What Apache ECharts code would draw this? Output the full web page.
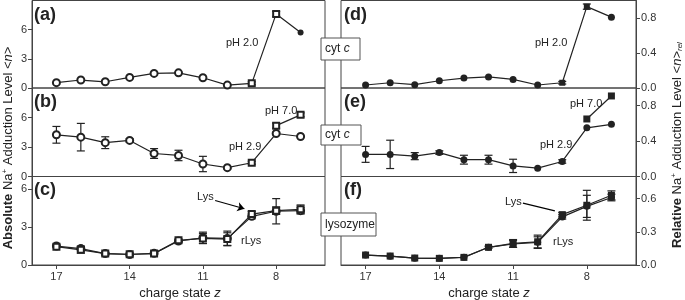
<!DOCTYPE html>
<html>
<head>
<meta charset="utf-8">
<script src="https://cdn.jsdelivr.net/npm/echarts@6/dist/echarts.min.js"></script>
<style>
  body { margin:0; background:#fff; }
  #main { width:685px; height:300px; }
</style>
</head>
<body>
<div id="main"></div>
<script>
  // charge states, high to low
  let charge = [17, 16, 15, 14, 13, 12, 11, 10, 9, 8, 7]
  let chargeTicks = [17, 14, 11, 8]
  let charge70 = [8, 7]

  // (a) absolute <n>, cyt c (pH 2.0 at low z)
  let absA = [0.55, 0.82, 0.64, 1.09, 1.5, 1.56, 1.05, 0.3, 0.48, 7.62, 5.71]
  let absAErr = [0, 0, 0, 0, 0, 0, 0, 0, 0.15, 0.25, 0]
  // (b) absolute <n>, cyt c pH 2.9 / pH 7.0
  let absB = [4.24, 4.0, 3.44, 3.67, 2.34, 2.14, 1.27, 0.9, 1.4, 4.37, 4.07]
  let absBErr = [0.85, 1.4, 0.6, 0.17, 0.5, 0.53, 0.78, 0.1, 0.15, 0.12, 0.05]
  let absB70 = [5.17, 6.27]
  let absB70Err = [0.25, 0.2]
  // (c) absolute <n>, lysozyme
  let absCLys = [1.45, 1.2, 0.9, 0.85, 0.9, 1.95, 2.1, 2.05, 4.03, 4.3, 4.4]
  let absCLysErr = [0, 0.26, 0.1, 0, 0.1, 0.1, 0.4, 0.5, 0.2, 0.3, 0.35]
  let absCrLys = [1.5, 1.3, 0.9, 0.83, 0.92, 1.9, 2.15, 2.1, 3.85, 4.25, 4.3]
  let absCrLysErr = [0, 0.2, 0, 0, 0, 0, 0.45, 0.58, 0.2, 1.0, 0.25]

  // (d) relative <n>rel, cyt c
  let relD = [0.034, 0.06, 0.038, 0.083, 0.113, 0.127, 0.098, 0.034, 0.06, 0.93, 0.81]
  let relDErr = [0, 0, 0, 0, 0, 0, 0, 0, 0.015, 0.03, 0]
  // (e) relative, cyt c pH 2.9 / pH 7.0
  let relE = [0.25, 0.25, 0.23, 0.27, 0.19, 0.19, 0.12, 0.094, 0.17, 0.55, 0.59]
  let relEErr = [0.09, 0.16, 0.04, 0.02, 0.05, 0.05, 0.075, 0, 0.02, 0, 0]
  let relE70 = [0.65, 0.91]
  // (f) relative, lysozyme
  let relFLys = [0.09, 0.081, 0.063, 0.06, 0.069, 0.16, 0.195, 0.21, 0.455, 0.54, 0.63]
  let relFLysErr = [0, 0, 0, 0, 0, 0.01, 0.035, 0.06, 0.02, 0.135, 0.04]
  let relFrLys = [0.09, 0.08, 0.062, 0.06, 0.07, 0.16, 0.19, 0.205, 0.435, 0.53, 0.61]
  let relFrLysErr = [0, 0, 0, 0, 0, 0, 0.03, 0.05, 0.02, 0.1, 0.03]

  let font = 'Liberation Sans, Arial, sans-serif'
  let ink = '#222'
  let axisInk = '#444'

  let leftX = 32, leftW = 293
  let rightX = 341, rightW = 295
  let rows = [[0.5, 87.5], [88, 88.5], [176.5, 88.5]]
  let yRanges = [[0, 9, [0, 3, 6]], [0, 9, [0, 3, 6]], [0, 7, [0, 3, 6]],
                 [0, 1, [0, 0.4, 0.8]], [0, 1, [0, 0.4, 0.8]], [0, 0.8, [0, 0.3, 0.6]]]

  let grids = [], xAxes = [], yAxes = []
  for (let i = 0; i < 6; i++) {
    let col = i < 3 ? 0 : 1
    let row = i % 3
    grids.push({
      left: col === 0 ? leftX : rightX,
      width: col === 0 ? leftW : rightW,
      top: rows[row][0],
      height: rows[row][1],
      show: true,
      borderColor: axisInk,
      borderWidth: 1,
    })
    let bottom = row === 2
    xAxes.push({
      gridIndex: i, type: 'value', min: 6, max: 18, inverse: true,
      splitLine: { show: false },
      axisLine: { show: bottom, lineStyle: { color: axisInk } },
      axisTick: { show: bottom, customValues: chargeTicks, length: 4, lineStyle: { color: axisInk } },
      axisLabel: { show: bottom, customValues: chargeTicks, fontFamily: font, fontSize: 11, color: '#333', margin: 6 },
    })
    let yr = yRanges[i]
    yAxes.push({
      gridIndex: i, type: 'value', min: yr[0], max: yr[1],
      position: col === 0 ? 'left' : 'right',
      splitLine: { show: false },
      axisLine: { show: true, lineStyle: { color: axisInk } },
      axisTick: { show: true, customValues: yr[2], length: 4, lineStyle: { color: axisInk } },
      axisLabel: {
        customValues: yr[2], fontFamily: font, fontSize: 11, color: '#333', margin: 5,
        formatter: col === 0 ? (v) => String(v) : (v) => v.toFixed(1),
      },
    })
  }

  function item(x, y, sym, size) {
    return sym ? { value: [x, y], symbol: sym, symbolSize: size || 6 } : [x, y]
  }

  function lineSeries(g, xs, ys, sym, overrides, extra) {
    return Object.assign({
      type: 'line', xAxisIndex: g, yAxisIndex: g,
      data: ys.map((v, i) => item(xs[i], v, overrides && overrides[i])),
      symbol: sym, symbolSize: 7, z: 3, animation: false,
      lineStyle: { color: ink, width: 1.2 },
      itemStyle: { color: ink, borderWidth: 1.2 },
    }, extra || {})
  }

  function errSeries(g, xs, ys, es) {
    return {
      type: 'custom', xAxisIndex: g, yAxisIndex: g, z: 2, silent: true, animation: false,
      encode: { x: 0, y: 1 },
      data: ys.map((v, i) => [xs[i], v, es[i]]),
      renderItem: function (params, api) {
        let x = api.value(0), y = api.value(1), e = api.value(2)
        if (!e) return null
        let hi = api.coord([x, y + e]), lo = api.coord([x, y - e])
        let w = 4
        let st = { stroke: ink, lineWidth: 1.2 }
        return { type: 'group', children: [
          { type: 'line', shape: { x1: hi[0], y1: hi[1], x2: lo[0], y2: lo[1] }, style: st },
          { type: 'line', shape: { x1: hi[0] - w, y1: hi[1], x2: hi[0] + w, y2: hi[1] }, style: st },
          { type: 'line', shape: { x1: lo[0] - w, y1: lo[1], x2: lo[0] + w, y2: lo[1] }, style: st },
        ] }
      },
    }
  }

  let openA = { 8: 'emptyRect', 9: 'emptyRect', 10: 'circle' }
  let openB = { 8: 'emptyRect' }
  let fillD = { 8: 'rect', 9: 'rect' }

  let series = [
    errSeries(0, charge, absA, absAErr),
    lineSeries(0, charge, absA, 'emptyCircle', openA),
    errSeries(1, charge, absB, absBErr),
    lineSeries(1, charge, absB, 'emptyCircle', openB),
    errSeries(1, charge70, absB70, absB70Err),
    lineSeries(1, charge70, absB70, 'emptyRect', null, { symbolSize: 6 }),
    errSeries(2, charge, absCLys, absCLysErr),
    errSeries(2, charge, absCrLys, absCrLysErr),
    lineSeries(2, charge, absCrLys, 'emptyCircle'),
    lineSeries(2, charge, absCLys, 'emptyRect', null, {
      symbolSize: 6,
      markLine: {
        silent: true, symbol: ['none', 'arrow'], symbolSize: 7,
        label: { show: false },
        lineStyle: { color: '#000', width: 1.2, type: 'solid' },
        data: [[{ coord: [10.5, 5.1] }, { coord: [9.3, 4.45] }]],
      },
    }),

    errSeries(3, charge, relD, relDErr),
    lineSeries(3, charge, relD, 'circle', fillD),
    errSeries(4, charge, relE, relEErr),
    lineSeries(4, charge, relE, 'circle'),
    lineSeries(4, charge70, relE70, 'rect', null, { symbolSize: 7 }),
    errSeries(5, charge, relFLys, relFLysErr),
    errSeries(5, charge, relFrLys, relFrLysErr),
    lineSeries(5, charge, relFrLys, 'circle'),
    lineSeries(5, charge, relFLys, 'rect', null, {
      symbolSize: 7,
      markLine: {
        silent: true, symbol: ['none', 'none'],
        label: { show: false },
        lineStyle: { color: '#000', width: 1.2, type: 'solid' },
        data: [[{ coord: [10.6, 0.56] }, { coord: [9.3, 0.49] }]],
      },
    }),
  ]

  function label(text, x, y, size, weight) {
    return { type: 'text', x: x, y: y, z: 10,
      style: { text: text, font: (weight || 'normal') + ' ' + (size || 11) + 'px ' + font, fill: '#222', verticalAlign: 'middle' } }
  }

  function box(x, y, w, h, text) {
    return { type: 'group', x: x, y: y, z: 20, children: [
      { type: 'rect', shape: { x: 0, y: 0, width: w, height: h }, style: { fill: '#fff', stroke: '#555', lineWidth: 1 } },
      { type: 'text', x: 4, y: h / 2, style: {
        text: text, verticalAlign: 'middle', fill: '#222',
        font: '12px ' + font,
        rich: { i: { fontStyle: 'italic', fontSize: 12, fontFamily: font } },
      } },
    ] }
  }

  let richTitle = {
    b: { fontWeight: 'bold', fontSize: 13, fontFamily: font },
    n: { fontSize: 13, fontFamily: font },
    i: { fontStyle: 'italic', fontSize: 13, fontFamily: font },
    sup: { fontSize: 8, fontFamily: font, verticalAlign: 'top', padding: [0, 0, 6, 0] },
    sub: { fontSize: 8, fontStyle: 'italic', fontFamily: font, verticalAlign: 'bottom', padding: [5, 0, 0, 0] },
  }

  let graphics = [
    label('(a)', 34, 15, 18, 'bold'),
    label('(b)', 34, 102, 18, 'bold'),
    label('(c)', 34, 190, 18, 'bold'),
    label('(d)', 344, 15, 18, 'bold'),
    label('(e)', 344, 102, 18, 'bold'),
    label('(f)', 344, 190, 18, 'bold'),
    label('pH 2.0', 226, 43),
    label('pH 7.0', 265, 111),
    label('pH 2.9', 229, 147),
    label('Lys', 197, 197),
    label('rLys', 241, 241),
    label('pH 2.0', 535, 43),
    label('pH 7.0', 570, 104),
    label('pH 2.9', 540, 145),
    label('Lys', 505, 202),
    label('rLys', 553, 242),
    box(321, 38, 39, 22, 'cyt {i|c}'),
    box(321, 125, 40, 20, 'cyt {i|c}'),
    box(321, 213, 55, 23, 'lysozyme'),
    { type: 'text', x: 180, y: 293, z: 10, style: {
      text: 'charge state {i|z}', align: 'center', verticalAlign: 'middle', fill: '#222',
      font: '13px ' + font, rich: { i: { fontStyle: 'italic', fontSize: 13, fontFamily: font } } } },
    { type: 'text', x: 489, y: 293, z: 10, style: {
      text: 'charge state {i|z}', align: 'center', verticalAlign: 'middle', fill: '#222',
      font: '13px ' + font, rich: { i: { fontStyle: 'italic', fontSize: 13, fontFamily: font } } } },
    { type: 'text', x: 8, y: 148, rotation: Math.PI / 2, z: 10, style: {
      text: '{b|Absolute}{n| Na}{sup|+}{n| Adduction Level <}{i|n}{n|>}',
      align: 'center', verticalAlign: 'middle', fill: '#222', rich: richTitle } },
    { type: 'text', x: 677, y: 145, rotation: Math.PI / 2, z: 10, style: {
      text: '{b|Relative}{n| Na}{sup|+}{n| Adduction Level <}{i|n}{n|>}{sub|rel}',
      align: 'center', verticalAlign: 'middle', fill: '#222', rich: richTitle } },
  ]

  let chart = echarts.init(document.getElementById('main'), null, { renderer: 'canvas' })
  chart.setOption({
    animation: false,
    grid: grids,
    xAxis: xAxes,
    yAxis: yAxes,
    series: series,
    graphic: graphics,
  })
</script>
</body>
</html>
